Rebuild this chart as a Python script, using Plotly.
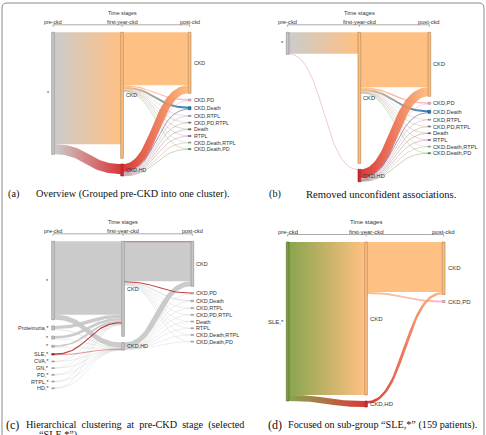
import numpy as np
import plotly.graph_objects as go

W, H = 486, 435

# ---------------- data ----------------
STAGES = ["pre-ckd", "first-year-ckd", "post-ckd"]
FY = ["CKD", "CKD,HD"]
POST = ["CKD", "CKD,PD", "CKD,Death", "CKD,RTPL", "CKD,PD,RTPL", "Death", "RTPL",
        "CKD,Death,RTPL", "CKD,Death,PD"]

# (a) overview
A_PRE = ["*"]
A_PRE_N = [122]
A_FY_N = [126, 12]
A_POST_N = [61, 2, 3, 1, 1, 1, 1, 0.8, 0.8]
A_PRE_TO_CKD = [112]
A_PRE_TO_HD = [10]
A_CKD_TO_POST = [53, 1.5, 2, 0.6, 0.5, 0.5, 0.5, 0.4, 0.4]
A_HD_TO_POST = [8, 0.5, 1, 0.4, 0.5, 0.5, 0.5, 0.4, 0.4]

# (b) removed unconfident associations
B_PRE = ["*"]
B_PRE_N = [22]
B_FY_N = [131, 12.5]
B_POST_N = [64, 2, 3, 0.8, 0.8, 0.7, 0.7, 0.6, 0.6]
B_PRE_TO_CKD = [21.5]
B_PRE_TO_HD = [0.5]
B_CKD_TO_POST = [55, 1.5, 2, 0.5, 0.5, 0.4, 0.4, 0.3, 0.3]
B_HD_TO_POST = [9, 0.5, 1, 0.3, 0.3, 0.3, 0.3, 0.3, 0.3]

# (c) hierarchical clustering at pre-CKD stage
C_PRE = ["*", "Proteinuria,*", "*", "*", "SLE,*", "CVA,*", "GN,*", "PD,*", "RTPL,*", "HD,*"]
C_PRE_N = [78.4, 4, 3, 2, 1.5, 0.5, 0.5, 0.5, 0.5, 0.5]
C_PRE_TO_CKD = [73.4, 3.2, 2.6, 1.7, 1.2, 0.35, 0.35, 0.35, 0.35, 0.35]
C_PRE_TO_HD = [5, 0.8, 0.4, 0.3, 0.3, 0.15, 0.15, 0.15, 0.15, 0.15]
C_FY_N = [95, 7.7]
C_POST_N = [45, 1.5, 1.5, 0.5, 0.5, 0.5, 0.5, 0.5, 0.5]
C_CKD_TO_POST = [40, 1, 1, 0.3, 0.3, 0.3, 0.3, 0.3, 0.3]
C_HD_TO_POST = [5, 0.5, 0.5, 0.2, 0.2, 0.2, 0.2, 0.2, 0.2]
C_SLE_CKD_TO_POST = [0.8, 1, 0, 0, 0, 0, 0, 0, 0]   # selected "SLE,*" share

# (d) sub-group "SLE,*" (159 patients)
D_PRE = ["SLE,*"]
D_PRE_N = [159]
D_FY_N = [153, 6]
D_POST = ["CKD", "CKD,PD"]
D_POST_N = [52.5, 2]
D_PRE_TO_CKD = [153]
D_PRE_TO_HD = [6]
D_CKD_TO_POST = [50, 2]
D_HD_TO_POST = [2.5, 0]

CAPTIONS = ["(a)", "Overview (Grouped pre-CKD into one cluster).",
            "(b)", "Removed unconfident associations.",
            "(c)", "Hierarchical clustering at pre-CKD stage (selected", "\u201cSLE,*\u201d).",
            "(d)", "Focused on sub-group \u201cSLE,*\u201d (159 patients)."]

COLORS = {"*": "#c7c7c7", "CKD": "#ffbb78", "CKD,HD": "#d62728", "CKD,PD": "#f7b6d2",
          "CKD,Death": "#1f77b4", "CKD,RTPL": "#a9a0d8", "CKD,PD,RTPL": "#8a8a8a",
          "Death": "#6b6b6b", "RTPL": "#9467bd", "CKD,Death,RTPL": "#9fbf8f",
          "CKD,Death,PD": "#2ca02c", "SLE,*": "#7f9d3e"}
GREY = "#c7c7c7"
HILITE = "#b5282c"

NW = 2.7
SANS = "Liberation Sans, Arial, sans-serif"
SERIF = "Liberation Serif, Times New Roman, serif"


def hex_rgb(h):
    h = h.lstrip("#")
    return [int(h[i:i + 2], 16) for i in (0, 2, 4)]


def rgba(h, a=1.0):
    r, g, b = hex_rgb(h)
    return f"rgba({r},{g},{b},{a})"


def mix(h1, h2, t):
    a, b = hex_rgb(h1), hex_rgb(h2)
    return "#%02x%02x%02x" % tuple(int(round(a[i] + (b[i] - a[i]) * t)) for i in range(3))


def darker(h, f=0.68):
    r, g, b = hex_rgb(h)
    return "#%02x%02x%02x" % (int(r * f), int(g * f), int(b * f))


def curve(x0, x1, y0, y1, n=48):
    t = np.linspace(0, 1, n)
    xm = (x0 + x1) / 2
    bx = (1 - t) ** 3 * x0 + 3 * (1 - t) ** 2 * t * xm + 3 * (1 - t) * t ** 2 * xm + t ** 3 * x1
    by = (1 - t) ** 3 * y0 + 3 * (1 - t) ** 2 * t * y0 + 3 * (1 - t) * t ** 2 * y1 + t ** 3 * y1
    dx = 3 * (1 - t) ** 2 * (xm - x0) + 3 * t ** 2 * (x1 - xm)
    dy = 6 * (1 - t) * t * (y1 - y0)
    L = np.hypot(dx, dy)
    return bx, by, -dy / L, dx / L


fig = go.Figure()
shapes, annots = [], []


def text(x, y, s, size, xanchor="left", font=SANS, color="#333"):
    annots.append(dict(x=x, y=y, xref="x", yref="y", text=s, showarrow=False,
                       xanchor=xanchor, yanchor="middle", borderpad=0,
                       font=dict(family=font, size=size, color=color)))


def panel(P, cols, links):
    xs, top, hp, pad, fs = P["x"], P["top"], P["h"], P["pad"], P["fs"]
    ky = min((hp - (len(c) - 1) * pad) / sum(n for _, n, _ in c) for c in cols)
    nodes, index = [], {}
    for ci, c in enumerate(cols):
        y = top
        for pi, (lab, n, colr) in enumerate(c):
            h = n * ky
            index[(ci, pi)] = len(nodes)
            nodes.append(dict(col=ci, label=lab, y0=y, y1=y + h, x0=xs[ci], x1=xs[ci] + NW, color=colr))
            y += h + pad
    L = []
    for (s, t, v, cs, ct, hl) in links:
        if v <= 0:
            continue
        L.append(dict(s=index[s], t=index[t], w=v * ky, cs=cs, ct=ct, hl=hl))
    off = {i: nd["y0"] for i, nd in enumerate(nodes)}
    for k in sorted(range(len(L)), key=lambda k: (L[k]["s"], nodes[L[k]["t"]]["y0"], k)):
        l = L[k]
        l["sy"] = off[l["s"]] + l["w"] / 2
        off[l["s"]] += l["w"]
    off = {i: nd["y0"] for i, nd in enumerate(nodes)}
    for k in sorted(range(len(L)), key=lambda k: (L[k]["t"], nodes[L[k]["s"]]["y0"], k)):
        l = L[k]
        l["ty"] = off[l["t"]] + l["w"] / 2
        off[l["t"]] += l["w"]
    for l in sorted(L, key=lambda l: l["hl"]):
        x0 = nodes[l["s"]]["x1"]
        x1 = nodes[l["t"]]["x0"]
        bx, by, nx, ny = curve(x0, x1, l["sy"], l["ty"])
        w = l["w"]
        if w < 1.3:
            col = l["ct"] if l["hl"] else mix(l["cs"], l["ct"], 0.65)
            alpha = 0.9 if l["hl"] else 0.6
            fig.add_trace(go.Scatter(x=bx, y=by, mode="lines",
                                     line=dict(color=rgba(col, alpha), width=max(w, 0.55)),
                                     hoverinfo="skip", showlegend=False))
        else:
            px = np.concatenate([bx + nx * w / 2, (bx - nx * w / 2)[::-1]])
            py = np.concatenate([by + ny * w / 2, (by - ny * w / 2)[::-1]])
            px = np.append(px, px[0])
            py = np.append(py, py[0])
            kw = dict(fillcolor=rgba(l["cs"], 0.92))
            if l["cs"] != l["ct"]:
                kw["fillgradient"] = dict(type="horizontal",
                                          colorscale=[[0, rgba(l["cs"], 0.92)], [1, rgba(l["ct"], 0.92)]])
            fig.add_trace(go.Scatter(x=px, y=py, mode="lines", fill="toself",
                                     line=dict(width=0, color="rgba(0,0,0,0)"),
                                     hoverinfo="skip", showlegend=False, **kw))
    for nd in nodes:
        y0, y1 = nd["y0"], nd["y1"]
        if y1 - y0 < 0.9:
            m = (y0 + y1) / 2
            y0, y1 = m - 0.45, m + 0.45
        shapes.append(dict(type="rect", xref="x", yref="y", x0=nd["x0"], x1=nd["x1"], y0=y0, y1=y1,
                           fillcolor=nd["color"], line=dict(color=darker(nd["color"]), width=0.6)))
        yc = (nd["y0"] + nd["y1"]) / 2
        if nd["col"] == 0:
            text(nd["x0"] - 1.5, yc, nd["label"], fs, "right")
        else:
            text(nd["x1"] + 1.5, yc, nd["label"], fs, "left")
    # header: time stages axis
    cx = [x + NW / 2 for x in xs]
    ly = top - 7.5
    shapes.append(dict(type="line", xref="x", yref="y", x0=cx[0], x1=cx[2], y0=ly, y1=ly,
                       line=dict(color="#888", width=0.7)))
    for c in cx:
        shapes.append(dict(type="line", xref="x", yref="y", x0=c, x1=c, y0=ly, y1=ly + 2,
                           line=dict(color="#888", width=0.7)))
    for c, s in zip(cx, STAGES):
        text(c, top - 10.3, s, fs, "center")
    text(cx[1], top - 19.7, "Time stages", fs, "center")


def build(P, pre, pre_n, fy_n, post, post_n, pre_ckd, pre_hd, ckd_post, hd_post,
          cmap, sle_post=None):
    cols = [[(l, n, cmap(l)) for l, n in zip(pre, pre_n)],
            [(l, n, cmap(l)) for l, n in zip(FY, fy_n)],
            [(l, n, cmap(l)) for l, n in zip(post, post_n)]]
    links = []
    for i, lab in enumerate(pre):
        hl = P.get("hl") == lab
        for j, vals in enumerate([pre_ckd, pre_hd]):
            cs = cmap(lab)
            ct = HILITE if hl else cmap(FY[j])
            links.append(((0, i), (1, j), vals[i], cs if not hl else HILITE, ct, hl))
    for j, vals in enumerate([ckd_post, hd_post]):
        for k, lab in enumerate(post):
            v = vals[k]
            if j == 0 and sle_post is not None and sle_post[k] > 0:
                links.append(((1, 0), (2, k), sle_post[k], HILITE, HILITE, True))
                v = v - sle_post[k]
            links.append(((1, j), (2, k), v, cmap(FY[j]), cmap(lab), False))
    panel(P, cols, links)


PA = dict(x=[51.7, 120.7, 188.3], top=32.3, h=143.7, pad=5.7, fs=5.3)
PB = dict(x=[286.3, 358.0, 428.0], top=32.3, h=149.5, pad=6.0, fs=5.7)
PC = dict(x=[51.7, 121.7, 191.0], top=241.3, h=147.2, pad=6.2, fs=5.5, hl="SLE,*")
PD = dict(x=[286.3, 364.7, 442.3], top=242.0, h=165.0, pad=6.0, fs=6.0)

color_full = lambda l: COLORS.get(l, GREY)
color_grey = lambda l: HILITE if l == "SLE,*" else GREY

build(PA, A_PRE, A_PRE_N, A_FY_N, POST, A_POST_N, A_PRE_TO_CKD, A_PRE_TO_HD,
      A_CKD_TO_POST, A_HD_TO_POST, color_full)
build(PB, B_PRE, B_PRE_N, B_FY_N, POST, B_POST_N, B_PRE_TO_CKD, B_PRE_TO_HD,
      B_CKD_TO_POST, B_HD_TO_POST, color_full)
build(PC, C_PRE, C_PRE_N, C_FY_N, POST, C_POST_N, C_PRE_TO_CKD, C_PRE_TO_HD,
      C_CKD_TO_POST, C_HD_TO_POST, color_grey, sle_post=C_SLE_CKD_TO_POST)
build(PD, D_PRE, D_PRE_N, D_FY_N, D_POST, D_POST_N, D_PRE_TO_CKD, D_PRE_TO_HD,
      D_CKD_TO_POST, D_HD_TO_POST, color_full)

# captions
NB = "\u00a0"
text(7, 193.5, CAPTIONS[0], 10.2, font=SERIF, color="#111")
text(35, 193.5, CAPTIONS[1], 10.2, font=SERIF, color="#111")
text(268, 194, CAPTIONS[2], 10.2, font=SERIF, color="#111")
text(304.5, 194, CAPTIONS[3], 10.6, font=SERIF, color="#111")
text(5, 425, CAPTIONS[4], 12, font=SERIF, color="#111")
text(25, 425, CAPTIONS[5].replace(" ", NB + " "), 10.2, font=SERIF, color="#111")
text(38, 434.5, CAPTIONS[6], 10.2, font=SERIF, color="#111")
text(267, 425, CAPTIONS[7], 12, font=SERIF, color="#111")
text(287, 425, CAPTIONS[8], 10.2, font=SERIF, color="#111")

# outer rounded frame
shapes.append(dict(type="path", xref="x", yref="y",
                   path="M 2,450 L 2,8 Q 2,3 7,3 L 479,3 Q 484,3 484,8 L 484,450",
                   line=dict(color="#8a8a8a", width=1)))

fig.update_layout(width=W, height=H, margin=dict(l=0, r=0, t=0, b=0),
                  paper_bgcolor="white", plot_bgcolor="white",
                  xaxis=dict(range=[0, W], visible=False, fixedrange=True),
                  yaxis=dict(range=[H, 0], visible=False, fixedrange=True),
                  shapes=shapes, annotations=annots, showlegend=False)
fig.write_html("out.html")
